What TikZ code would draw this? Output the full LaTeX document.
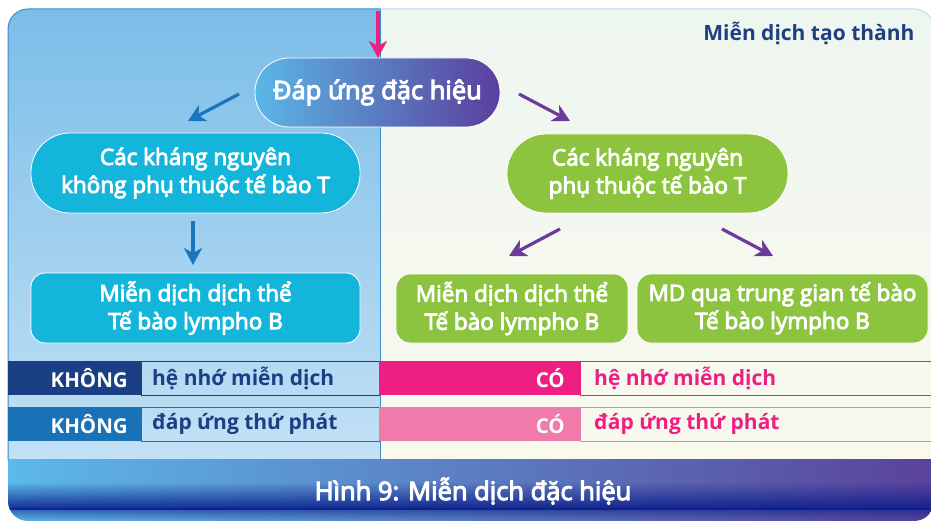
\documentclass[tikz,border=0pt]{standalone}
\usepackage{fontspec}
\setmainfont{Open Sans}
\newfontfamily\medf{Open Sans}[FakeBold=4]
\usetikzlibrary{arrows.meta,fadings}
\definecolor{lbTop}{HTML}{7BBDE8}
\definecolor{lbBot}{HTML}{C3E1F5}
\definecolor{rpTop}{HTML}{EEF6F0}
\definecolor{rpBot}{HTML}{F9F9EE}
\definecolor{cyanN}{HTML}{14B5DA}
\definecolor{greenN}{HTML}{8CC43F}
\definecolor{navyR}{HTML}{1B3F85}
\definecolor{blueR}{HTML}{1A72B6}
\definecolor{pinkA}{HTML}{EE1E82}
\definecolor{pinkB}{HTML}{F07BAA}
\definecolor{arrBlue}{HTML}{1976BC}
\definecolor{arrPurple}{HTML}{6B3A9C}
\definecolor{titleNavy}{HTML}{1F3F80}
\definecolor{dL}{HTML}{5BB6E6}
\definecolor{dR}{HTML}{5A3F9C}
\definecolor{barL}{HTML}{5CB9E8}
\definecolor{barR}{HTML}{5A429C}
\definecolor{barDark}{HTML}{0A1E8A}
\definecolor{borderBlue}{HTML}{3A8CCB}
\definecolor{lightBorder}{HTML}{B9DDF0}
\tikzset{
  pill/.style={draw=white, line width=0.8pt, text=white, align=center,
    font=\medf\fontsize{22.5}{28}\selectfont, inner sep=0pt},
  boxn/.style={draw=white, line width=0.8pt, text=white, align=center,
    font=\medf\fontsize{22.5}{28}\selectfont, inner sep=0pt, rounded corners=14pt},
  bigarrow/.style={line width=3.2pt, -{Stealth[length=17pt,width=18pt,inset=5pt]}},
  lab/.style={font=\bfseries\fontsize{20.5}{22}\selectfont, text=white, inner sep=0pt},
  rowtxt/.style={font=\bfseries\fontsize{21}{22}\selectfont, inner sep=0pt, anchor=west}
}
\begin{document}
\begin{tikzpicture}[x=1pt,y=-1pt]
\useasboundingbox (0,0) rectangle (931,521);
% panels
\begin{scope}
\clip[rounded corners=20pt] (8,9) rectangle (934,521);
\shade[top color=lbTop,bottom color=lbBot] (8,9) rectangle (380,460);
\shade[top color=rpTop,bottom color=rpBot] (380,9) rectangle (934,460);
\shade[left color=barL,right color=barR] (8,459) rectangle (934,521);
\fill[barDark,path fading=north,opacity=0.95] (8,482) rectangle (934,510);
\fill[barDark,path fading=south,opacity=0.6] (8,508) rectangle (934,521);
\end{scope}
\draw[borderBlue,line width=1pt,rounded corners=20pt] (8,460) -- (8,9) -- (380,9);
\draw[lightBorder,line width=1pt,rounded corners=20pt] (380,9) -- (934,9) -- (934,460);
\draw[borderBlue,line width=0.8pt] (380,9) -- (380,460);

% title top right
\node[font=\bfseries\fontsize{21}{22}\selectfont, text=titleNavy, anchor=east] (mt) at (918,33) {Miễn dịch tạo thành};

% nodes
\node[pill, shade, left color=dL, right color=dR, minimum width=245pt, minimum height=69pt,
  rounded corners=34pt, font=\medf\fontsize{25.5}{28}\selectfont] (D) at (377.5,92.5) {Đáp ứng đặc hiệu};
\node[pill, fill=cyanN, minimum width=329pt, minimum height=80pt, rounded corners=39pt] (L1) at (195.5,173)
  {Các kháng nguyên\\không phụ thuộc tế bào T};
\node[pill, fill=greenN, minimum width=281pt, minimum height=79pt, rounded corners=39pt] (R1) at (647.5,173.5)
  {Các kháng nguyên\\phụ thuộc tế bào T};
\node[boxn, fill=cyanN, minimum width=329pt, minimum height=70pt] (L2) at (195.5,308)
  {Miễn dịch dịch thể\\Tế bào lympho B};
\node[boxn, fill=greenN, minimum width=232pt, minimum height=69pt] (R2a) at (512,308.5)
  {Miễn dịch dịch thể\\Tế bào lympho B};
\node[boxn, fill=greenN, minimum width=291pt, minimum height=69pt] (R2b) at (782.5,308.5)
  {MD qua trung gian tế bào\\Tế bào lympho B};

% arrows
\coordinate (p0) at (378,11);
\coordinate (p1) at (378,58);
\coordinate (a0) at (239,94);
\coordinate (a1) at (188,121);
\coordinate (b0) at (519,94);
\coordinate (b1) at (570,121);
\coordinate (c0) at (193,221);
\coordinate (c1) at (193,265);
\coordinate (d0) at (560,229);
\coordinate (d1) at (509,256);
\coordinate (e0) at (722,229);
\coordinate (e1) at (773,256);
\draw[bigarrow, pinkA] (p0) -- (p1);
\draw[bigarrow, arrBlue] (a0) -- (a1);
\draw[bigarrow, arrPurple] (b0) -- (b1);
\draw[bigarrow, arrBlue] (c0) -- (c1);
\draw[bigarrow, arrPurple] (d0) -- (d1);
\draw[bigarrow, arrPurple] (e0) -- (e1);

% rows left
\fill[navyR] (8,361) rectangle (141,395);
\draw[navyR, line width=1pt] (141,361) rectangle (379,395);
\node[lab, anchor=east] (k1) at (128,378) {KHÔNG};
\node[rowtxt, text=navyR] (t1) at (152,378) {hệ nhớ miễn dịch};
\fill[blueR] (8,407) rectangle (141,441);
\draw[blueR, line width=1pt] (141,407) rectangle (379,441);
\node[lab, anchor=east] (k2) at (128,424) {KHÔNG};
\node[rowtxt, text=navyR] (t2) at (152,424) {đáp ứng thứ phát};
% rows right
\fill[pinkA] (379,361) rectangle (580,395);
\draw[pinkA, line width=1pt] (580,361) rectangle (934,395);
\node[lab, anchor=east] (c1l) at (565,378) {CÓ};
\node[rowtxt, text=pinkA] (t3) at (594,378) {hệ nhớ miễn dịch};
\fill[pinkB] (379,407) rectangle (580,441);
\draw[pinkB, line width=1pt] (580,407) rectangle (934,441);
\node[lab, anchor=east] (c2l) at (565,424) {CÓ};
\node[rowtxt, text=pinkA] (t4) at (594,424) {đáp ứng thứ phát};

% caption
\node[font=\medf\fontsize{25.5}{28}\selectfont, text=white] (cap) at (473,491) {Hình 9: Miễn dịch đặc hiệu};
\end{tikzpicture}
\end{document}
